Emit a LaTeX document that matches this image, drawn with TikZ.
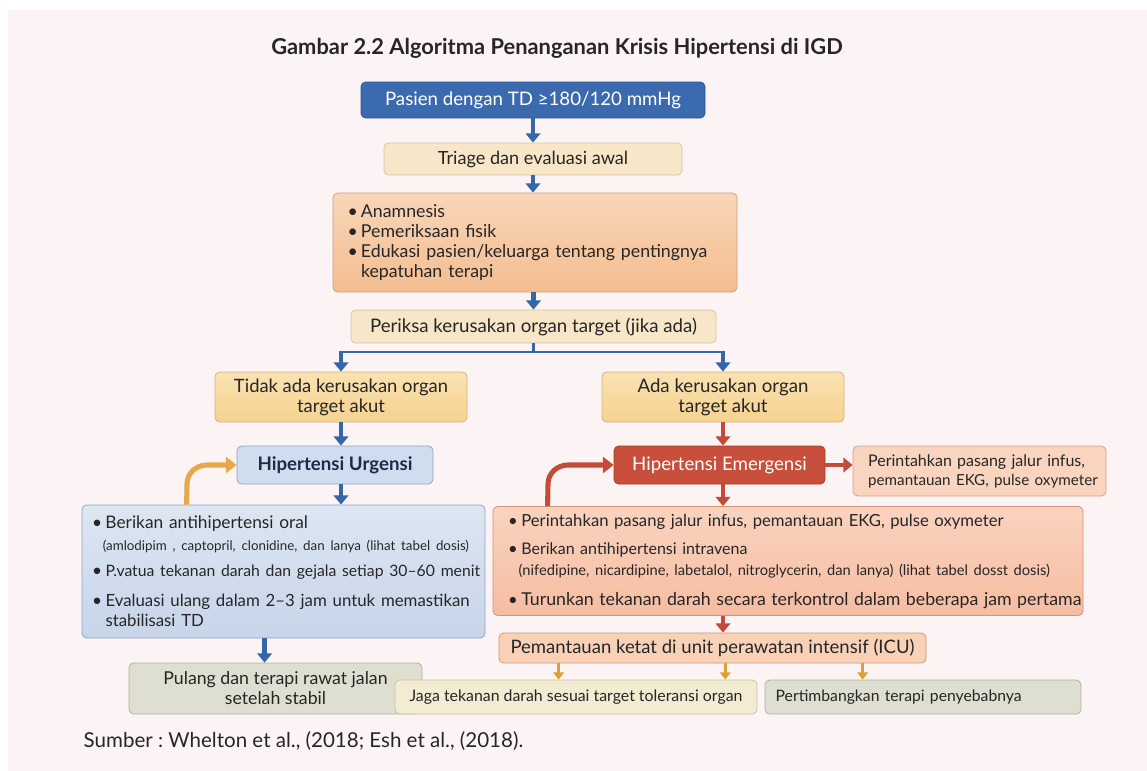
\documentclass[tikz,border=0pt]{standalone}
\usepackage{fontspec}
\setmainfont{Lato}
\usetikzlibrary{arrows.meta}
\frenchspacing
\definecolor{bgpink}{HTML}{FCF4F4}
\definecolor{txt}{HTML}{262626}
\definecolor{navy}{HTML}{1E2A48}
\definecolor{bluebox}{HTML}{3B6AAE}
\definecolor{bluedraw}{HTML}{2D5896}
\definecolor{ablue}{HTML}{3566A8}
\definecolor{cream}{HTML}{F7E7C8}
\definecolor{creamdraw}{HTML}{D6C39F}
\definecolor{orlight}{HTML}{F9D6B8}
\definecolor{ordark}{HTML}{F4BD90}
\definecolor{ordraw}{HTML}{D39E78}
\definecolor{yelight}{HTML}{F9E2B2}
\definecolor{yedark}{HTML}{F6D28F}
\definecolor{yedraw}{HTML}{D5B47A}
\definecolor{lblue}{HTML}{D0DDEF}
\definecolor{lbluedraw}{HTML}{8FA4C3}
\definecolor{lbtop}{HTML}{DDE6F2}
\definecolor{lbbot}{HTML}{C7D5EA}
\definecolor{redbox}{HTML}{C84F3B}
\definecolor{reddraw}{HTML}{A63B2A}
\definecolor{ared}{HTML}{C44B38}
\definecolor{salmon}{HTML}{F9D5C0}
\definecolor{salmondraw}{HTML}{D3A389}
\definecolor{sltop}{HTML}{FAD3BF}
\definecolor{slbot}{HTML}{F6BDA2}
\definecolor{sldraw}{HTML}{D49378}
\definecolor{peach}{HTML}{F9D1B6}
\definecolor{aorange}{HTML}{DF9F32}
\definecolor{corange}{HTML}{E8A849}
\definecolor{cream2}{HTML}{F3ECD3}
\definecolor{cream2draw}{HTML}{CDC19F}
\definecolor{grey}{HTML}{DEDFD1}
\definecolor{greydraw}{HTML}{AEB0A2}
\newcommand\bul{\makebox[10pt][l]{•}}
\newcommand\fsz[1]{\fontsize{#1}{15}\selectfont}
\tikzset{
  box/.style={draw, rounded corners=3.5pt, line width=0.6pt, inner sep=3pt, text=txt},
  barrow/.style={draw=ablue, line width=3.6pt, -{Triangle[width=11pt,length=7pt]}},
  bthin/.style={draw=ablue, line width=2.2pt},
  rarrow/.style={draw=ared, line width=3.6pt, -{Triangle[width=11pt,length=7pt]}},
  oarrow/.style={draw=aorange, line width=2.2pt, -{Triangle[width=8pt,length=5.5pt]}},
  curvo/.style={line width=3.8pt, -{Triangle[width=12pt,length=8pt]}},
}
\begin{document}
\begin{tikzpicture}[x=0.75pt,y=-0.75pt]
\useasboundingbox (0,0) rectangle (1147,771);
\fill[white] (0,0) rectangle (1147,771);
\fill[bgpink] (8,10) rectangle (1147,771);

\node[font=\fontsize{16.4}{19}\selectfont\bfseries, text=txt] (title) at (557,48)
  {Gambar 2.2 Algoritma Penanganan Krisis Hipertensi di IGD};

\node[box, fill=bluebox, draw=bluedraw, text=white, minimum width=258pt, minimum height=27pt,
  font=\fontsize{14}{17}\selectfont] (b1) at (533,100) {Pasien dengan TD ≥180/120 mmHg};
\node[box, fill=cream, draw=creamdraw, minimum width=223.5pt, minimum height=24pt,
  font=\fontsize{13.6}{15}\selectfont] (b2) at (533,159) {Triage dan evaluasi awal};
\node[box, top color=orlight, bottom color=ordark, draw=ordraw, minimum width=303pt, minimum height=74.25pt,
  inner xsep=11pt, text width=281pt, align=left, font=\fontsize{13.3}{15}\selectfont] (b3) at (535,242.5)
  {\bul Anamnesis\\ \bul Pemeriksaan fisik\\ \mbox{\bul Edukasi pasien/keluarga tentang pentingnya}\\ \hspace*{10pt}kepatuhan terapi};
\node[box, fill=cream, draw=creamdraw, minimum width=273.75pt, minimum height=24.75pt,
  font=\fontsize{14}{15}\selectfont] (b4) at (533.5,326.5) {Periksa kerusakan organ target (jika ada)};

\node[box, top color=yelight, bottom color=yedark, draw=yedraw, minimum width=189pt, minimum height=37.5pt,
  align=center, font=\fontsize{13.8}{15}\selectfont] (b5) at (341,397) {Tidak ada kerusakan organ\\ target akut};
\node[box, top color=yelight, bottom color=yedark, draw=yedraw, minimum width=181.5pt, minimum height=37.5pt,
  align=center, font=\fontsize{14}{15}\selectfont] (b6) at (723,397) {Ada kerusakan organ\\ target akut};

\node[box, fill=lblue, draw=lbluedraw, minimum width=147pt, minimum height=28.5pt,
  font=\fontsize{14}{15}\selectfont\bfseries, text=navy] (b7) at (335,465) {Hipertensi Urgensi};
\node[box, top color=lbtop, bottom color=lbbot, draw=lbluedraw, minimum width=302.25pt, minimum height=99.75pt,
  inner xsep=7.5pt, text width=287pt, align=left, font=\fsz{13}] (b8) at (283.5,571.5)
  {\mbox{\bul Berikan antihipertensi oral}\\[1.5pt]
   \mbox{\hspace*{8pt}{\fontsize{10}{11}\selectfont (amlodipim , captopril, clonidine, dan lanya (lihat tabel dosis)}}\\[4.5pt]
   \mbox{\bul{\fsz{11.8}P.vatua tekanan darah dan gejala setiap 30–60 menit}}\\[7.5pt]
   \mbox{\bul{\fsz{12.6}Evaluasi ulang dalam 2–3 jam untuk memastikan}}\\
   \hspace*{10pt}{\fsz{12.6}stabilisasi TD}};

\node[box, fill=redbox, draw=reddraw, text=white, minimum width=158.25pt, minimum height=28.5pt,
  font=\fontsize{14}{15}\selectfont] (b9) at (719.5,465) {Hipertensi Emergensi};
\node[box, fill=salmon, draw=salmondraw, minimum width=189.75pt, minimum height=37.5pt,
  inner xsep=11pt, text width=167pt, align=left, font=\fontsize{12}{14.25}\selectfont] (b10) at (979.5,471)
  {\mbox{Perintahkan pasang jalur infus,}\\ \mbox{\fontsize{11.4}{14.25}\selectfont pemantauan EKG, pulse oxymeter}};
\node[box, top color=sltop, bottom color=slbot, draw=sldraw, minimum width=442.5pt, minimum height=81.75pt,
  inner xsep=11pt, text width=420pt, align=left, font=\fsz{12.5}] (b11) at (788,561)
  {\mbox{\bul Perintahkan pasang jalur infus, pemantauan EKG, pulse oxymeter}\\[6pt]
   \mbox{\bul{\fsz{12}Berikan antihipertensi intravena}}\\[0.75pt]
   \mbox{\hspace*{8pt}{\fontsize{11}{11}\selectfont (nifedipine, nicardipine, labetalol, nitroglycerin, dan lanya) (lihat tabel dosst dosis)}}\\[7.5pt]
   \mbox{\bul{\fsz{13.3}Turunkan tekanan darah secara terkontrol dalam beberapa jam pertama}}};
\node[box, fill=peach, draw=sldraw, minimum width=320.25pt, minimum height=22.5pt,
  font=\fontsize{13.9}{15}\selectfont] (b12) at (712.5,648) {Pemantauan ketat di unit perawatan intensif (ICU)};

\node[box, fill=grey, draw=greydraw, minimum width=219.75pt, minimum height=38.25pt,
  align=center, font=\fontsize{13.3}{15}\selectfont] (b15) at (275.5,688.5) {Pulang dan terapi rawat jalan\\ setelah stabil};
\node[box, fill=cream2, draw=cream2draw, minimum width=271.5pt, minimum height=25.5pt,
  font=\fontsize{11.9}{14}\selectfont] (b13) at (576,697) {Jaga tekanan darah sesuai target toleransi organ};
\node[box, fill=grey, draw=greydraw, minimum width=237pt, minimum height=25.5pt,
  inner xsep=8pt, text width=221pt, align=left, font=\fontsize{11.8}{14}\selectfont] (b14) at (923,697) {Pertimbangkan terapi penyebabnya};

\node[anchor=west, font=\fontsize{15.4}{17}\selectfont, text=txt] (src) at (79,741)
  {Sumber : Whelton et al., (2018; Esh et al., (2018).};

% connectors
\draw[barrow] (b1) -- (b2);
\draw[barrow] (b2.south) -- (b2.south |- b3.north);
\draw[barrow] (b4.north |- b3.south) -- (b4.north);
\coordinate (sp) at (533.5,352);
\draw[bthin] (b4.south) -- (sp);
\draw[bthin] (sp -| b5.north) -- (sp -| b6.north);
\coordinate (sp5) at ([yshift=1.1pt]sp -| b5.north);
\coordinate (sp6) at ([yshift=1.1pt]sp -| b6.north);
\draw[barrow] (sp5) -- (b5.north);
\draw[barrow] (sp6) -- (b6.north);
\draw[barrow] (b5.south) -- (b5.south |- b7.north);
\draw[barrow] (b5.south |- b7.south) -- (b5.south |- b8.north);
\draw[rarrow] (b6.south) -- (b6.south |- b9.north);
\draw[rarrow] (b9.east) -- (b10.west |- b9.east);
\draw[rarrow] (b6.south |- b9.south) -- (b6.south |- b11.north);
\draw[rarrow] (b6.south |- b11.south) -- (b6.south |- b12.north);
\coordinate (c8) at ([xshift=137.25pt]b8.south west);
\draw[barrow] (c8) -- (c8 |- b15.north);
\coordinate (a1) at ([xshift=45pt]b12.south west);
\coordinate (a2) at ([xshift=170pt]b12.south west);
\coordinate (a3) at ([xshift=273pt]b12.south west);
\draw[oarrow] (a1) -- (a1 |- b13.north);
\draw[oarrow] (a2) -- (a2 |- b13.north);
\draw[oarrow] (a3) -- (a3 |- b14.north);
% curved feedback arrows
\coordinate (o1) at ([xshift=78.75pt]b8.north west);
\draw[curvo, draw=corange] (o1) -- (187,484) to[out=90,in=180] (207,465) -- (b7.west);
\coordinate (r1) at ([xshift=41.25pt]b11.north west);
\draw[curvo, draw=ared] (r1) -- (548,484) to[out=90,in=180] (568,465) -- (b9.west);
\end{tikzpicture}
\end{document}
